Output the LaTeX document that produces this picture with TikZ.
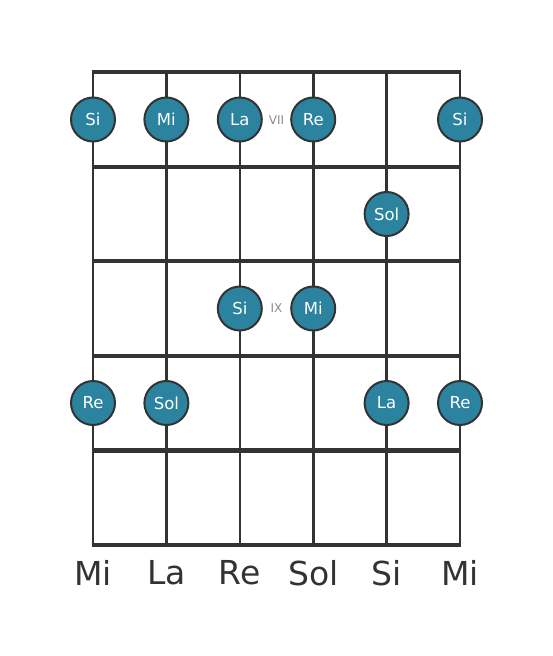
\documentclass[tikz,border=0pt]{standalone}
\usepackage{fontspec}
\setmainfont{DejaVu Sans}
\usetikzlibrary{positioning}
\definecolor{dotblue}{HTML}{2B83A0}
\definecolor{linegray}{HTML}{333333}
\definecolor{markgray}{HTML}{8A8A8A}

\begin{document}
\begin{tikzpicture}[x=1pt, y=-1pt,
    string/.style={draw=linegray, line width=2.6pt},
    fret/.style={draw=linegray, line width=4.2pt},
    note/.style={circle, draw=linegray, line width=2pt, fill=dotblue, minimum size=44pt, inner sep=0pt, text=white, font=\fontsize{16.5}{16.5}\selectfont},
    fretmark/.style={text=markgray, font=\fontsize{12}{12}\selectfont},
    tuning/.style={text=linegray, font=\fontsize{33}{33}\selectfont}
]
\useasboundingbox (0,0) rectangle (553,656);

% strings and frets
\foreach \s in {1,...,6} {
    \coordinate (S\s top) at ({93+(\s-1)*73.4},70);
    \coordinate (S\s bot) at ({93+(\s-1)*73.4},547);
}
\foreach \f in {0,...,5} {
    \coordinate (F\f left) at (91.7,{72+\f*94.6});
    \coordinate (F\f right) at (461.3,{72+\f*94.6});
}
\foreach \s in {1,...,6}
    \draw [string] (S\s top) -- (S\s bot);
\foreach \f in {0,...,5}
    \draw [fret] (F\f left) -- (F\f right);

% notes
\node [note] (n1) at (93,119.5) {Si};
\node [note] (n2) at (166.4,119.5) {Mi};
\node [note] (n3) at (239.8,119.5) {La};
\node [note] (n4) at (313.2,119.5) {Re};
\node [note] (n5) at (460,119.5) {Si};
\node [note] (n6) at (386.6,214) {Sol};
\node [note] (n7) at (239.8,308.5) {Si};
\node [note] (n8) at (313.2,308.5) {Mi};
\node [note] (n9) at (93,403) {Re};
\node [note] (n10) at (166.4,403) {Sol};
\node [note] (n11) at (386.6,403) {La};
\node [note] (n12) at (460,403) {Re};

% position marks
\node [fretmark] (vii) at (276.5,120) {VII};
\node [fretmark] (ix) at (276.5,308.5) {IX};

% tuning
\foreach \t [count=\s] in {Mi,La,Re,Sol,Si,Mi}
    \node [tuning] (t\s) at ({93+(\s-1)*73.4},573) {\t};

\end{tikzpicture}
\end{document}
